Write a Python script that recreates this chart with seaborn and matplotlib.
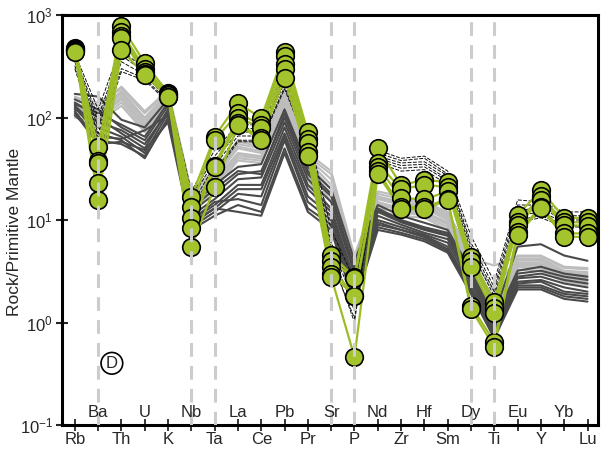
import numpy as np
import pandas as pd
import matplotlib
matplotlib.use("Agg")
import matplotlib.pyplot as plt
import matplotlib.transforms as mtransforms
import seaborn as sns

elements = ["Rb", "Ba", "Th", "U", "K", "Nb", "Ta", "La", "Ce", "Pb", "Pr", "Sr",
            "P", "Nd", "Zr", "Hf", "Sm", "Dy", "Ti", "Eu", "Y", "Yb", "Lu"]
dashed_elements = ["Ba", "Nb", "Ta", "Sr", "P", "Dy", "Ti"]

# light grey reference samples
light_1 = [160, 130, 200, 115, 185, 19, 31, 60, 55, 190, 45, 30, 4.5, 19, 17, 15, 12, 4.5, 2.0, 4.5, 4.5, 3.5, 3.4]
light_2 = [150, 120, 180, 100, 175, 17, 28, 55, 50, 180, 40, 25, 4.0, 17, 15, 14, 11, 4.0, 1.7, 4.2, 4.2, 3.2, 3.1]
light_3 = [140, 110, 170, 90, 165, 16, 26, 50, 45, 170, 36, 20, 3.5, 16, 14, 13, 10, 3.7, 1.5, 4.0, 4.0, 3.0, 2.9]
light_4 = [130, 105, 160, 85, 160, 15, 25, 45, 42, 160, 33, 15, 3.0, 15, 13, 12, 9.5, 3.4, 1.3, 3.8, 3.8, 2.9, 2.7]
light_5 = [120, 100, 150, 80, 155, 14, 23, 42, 40, 150, 30, 12, 2.6, 14, 12.5, 11.5, 9, 3.2, 1.2, 3.6, 3.6, 2.7, 2.5]
light_6 = [110, 95, 140, 75, 150, 13, 22, 40, 38, 140, 28, 10, 2.3, 13, 12, 11, 8.5, 3.0, 1.0, 3.5, 3.4, 2.6, 2.4]
light_7 = [100, 90, 130, 72, 145, 12, 20, 38, 36, 130, 26, 8, 2.0, 12, 11, 10.5, 8, 2.8, 0.9, 3.3, 3.2, 2.5, 2.3]
light_8 = [155, 140, 190, 110, 180, 18, 30, 58, 52, 185, 42, 28, 4.2, 18, 16, 14.5, 11.5, 4.2, 3.6, 4.4, 4.4, 3.4, 3.3]
light_9 = [135, 115, 175, 95, 170, 16, 27, 52, 47, 175, 38, 22, 3.8, 16.5, 14.5, 13.5, 10.5, 3.8, 1.6, 4.1, 4.1, 3.1, 3.0]
light_10 = [125, 100, 155, 82, 158, 14.5, 24, 44, 41, 155, 32, 18, 2.8, 14.5, 13, 12, 9.2, 3.3, 0.8, 3.7, 3.7, 2.8, 2.6]

# dark grey reference samples
dark_1 = [170, 160, 95, 80, 150, 14, 22, 33, 35, 120, 33, 20, 4.0, 14, 11, 9.4, 8, 3.2, 1.2, 5.5, 5.8, 4.5, 4.0]
dark_2 = [150, 120, 80, 60, 130, 12, 18, 28, 30, 100, 28, 17, 3.5, 13, 10, 8.5, 7.5, 3.0, 1.1, 3.0, 3.2, 2.8, 2.6]
dark_3 = [140, 100, 70, 50, 120, 11, 16, 25, 26, 90, 25, 15, 3.0, 12, 9.5, 8, 7, 2.8, 1.0, 2.8, 3.0, 2.6, 2.4]
dark_4 = [130, 80, 65, 45, 110, 10, 14, 22, 22, 80, 22, 13, 2.6, 11, 9, 7.5, 6.5, 2.6, 0.95, 2.7, 2.8, 2.4, 2.2]
dark_5 = [125, 70, 60, 40, 100, 9, 13, 20, 20, 70, 20, 12, 2.3, 10, 8.5, 7.2, 6, 2.4, 0.9, 2.5, 2.6, 2.2, 2.0]
dark_6 = [115, 60, 55, 42, 95, 8.5, 12, 18, 17, 65, 17, 11, 2.0, 9.5, 8, 7, 5.5, 2.2, 0.85, 2.4, 2.5, 2.0, 1.9]
dark_7 = [120, 90, 75, 55, 115, 10, 15, 16, 14, 60, 15, 10, 1.8, 9, 8, 6.8, 5.2, 2.1, 0.8, 2.3, 2.3, 1.9, 1.8]
dark_8 = [110, 55, 58, 48, 90, 8, 11, 14, 12, 50, 13, 9, 1.6, 8.5, 7.5, 6.5, 5, 2.0, 0.75, 2.2, 2.2, 1.8, 1.7]
dark_9 = [135, 110, 85, 65, 140, 13, 20, 30, 28, 110, 30, 18, 3.2, 12.5, 9.8, 8.2, 7.2, 2.9, 1.05, 3.2, 3.5, 3.0, 2.8]
dark_10 = [105, 65, 62, 75, 105, 9.5, 13, 12, 11, 45, 12, 8, 1.5, 8, 7.2, 6.2, 4.8, 1.9, 0.7, 2.1, 2.1, 1.7, 1.6]

# thin black dashed reference samples
dash_1 = [420, 120, 500, 330, 180, 19, 48, 85, 85, 290, 75, 8, 2.6, 48, 40, 42, 30, 7, 2.5, 15.7, 15, 12, 12]
dash_2 = [400, 100, 450, 300, 170, 17, 42, 78, 78, 260, 68, 6, 2.0, 45, 38, 40, 28, 6, 2.2, 14, 14, 11, 11]
dash_3 = [380, 90, 400, 280, 160, 16, 38, 72, 72, 240, 62, 5.5, 1.6, 42, 36, 37, 27, 5.5, 2.0, 12.5, 13, 10, 10]
dash_4 = [350, 80, 350, 260, 150, 14, 34, 66, 66, 220, 58, 5, 1.3, 40, 34, 35, 25, 5, 1.8, 11, 12, 9.5, 9.5]
dash_5 = [320, 70, 300, 240, 145, 13, 30, 60, 60, 200, 55, 4.5, 1.0, 38, 32, 33, 24, 4.5, 1.6, 10, 11, 9, 8.5]
dash_6 = [300, 60, 280, 230, 140, 12, 28, 58, 58, 190, 52, 4, 1.1, 36, 30, 31, 22, 4, 1.4, 9.5, 10.5, 8.6, 8.5]

# green (this study) samples
green_1 = [480, 51, 780, 340, 175, 16.7, 65, 138, 99, 435, 72, 4.6, 2.75, 50, 22, 24.5, 23.5, 4.4, 1.58, 11.2, 19.5, 10.5, 10.5]
green_2 = [470, 38, 680, 300, 170, 13.4, 60, 110, 85, 400, 62, 4.0, 2.7, 36, 20, 22, 21, 4.0, 1.4, 9.5, 17, 9.5, 9.5]
green_3 = [455, 36, 620, 280, 165, 10.5, 34, 100, 79, 330, 56, 3.5, 1.8, 33, 16.4, 15.9, 19, 3.5, 1.24, 8.9, 15.7, 8.9, 8.8]
green_4 = [445, 23, 600, 265, 160, 8.4, 33, 88, 63, 300, 46, 3.0, 1.8, 30, 13.4, 13.4, 16, 1.45, 0.65, 7.6, 13.4, 7.4, 7.4]
green_5 = [440, 15.7, 455, 260, 158, 5.5, 21, 85, 60, 243, 42, 2.8, 0.46, 28, 12.8, 12.8, 15.5, 1.35, 0.58, 7.2, 13.0, 6.9, 6.8]

light = [light_1, light_2, light_3, light_4, light_5, light_6, light_7, light_8, light_9, light_10]
dark = [dark_1, dark_2, dark_3, dark_4, dark_5, dark_6, dark_7, dark_8, dark_9, dark_10]
dashed = [dash_1, dash_2, dash_3, dash_4, dash_5, dash_6]
green = [green_1, green_2, green_3, green_4, green_5]


def to_df(rows):
    recs = []
    for i, r in enumerate(rows):
        for j, v in enumerate(r):
            recs.append({"sample": i, "pos": j, "val": v})
    return pd.DataFrame(recs)


sns.set_style("white")
plt.rcParams["font.family"] = ["Liberation Sans", "DejaVu Sans"]
plt.rcParams["mathtext.fontset"] = "custom"
plt.rcParams["mathtext.rm"] = "Liberation Sans"
plt.rcParams["mathtext.it"] = "Liberation Sans:italic"
plt.rcParams["mathtext.bf"] = "Liberation Sans:bold"

fig = plt.figure(figsize=(6.08, 4.53), dpi=100)
ax = fig.add_axes([62 / 608, 1 - 425 / 453, (598 - 62) / 608, (425 - 15) / 453])

sns.lineplot(data=to_df(light), x="pos", y="val", units="sample", estimator=None,
             color="#bdbdbd", lw=1.5, ax=ax, zorder=2, legend=False)
sns.lineplot(data=to_df(dark), x="pos", y="val", units="sample", estimator=None,
             color="#4a4a4a", lw=1.5, ax=ax, zorder=3, legend=False)
sns.lineplot(data=to_df(dashed), x="pos", y="val", units="sample", estimator=None,
             color="#111111", lw=0.7, ax=ax, zorder=4, legend=False,
             linestyle=(0, (4, 1.5)))
gdf = to_df(green)
sns.lineplot(data=gdf, x="pos", y="val", units="sample", estimator=None,
             color="#9cbc26", lw=1.6, ax=ax, zorder=5, legend=False)
sns.scatterplot(data=gdf, x="pos", y="val", color="#a3c42c", edgecolor="black",
                linewidth=1.2, s=160, ax=ax, zorder=6, legend=False)

ax.set_yscale("log")
ax.set_ylim(0.1, 1000)
ax.set_xlim(-0.55, 22.45)

for el in dashed_elements:
    ax.axvline(elements.index(el), color="#cccccc", lw=2.2, linestyle=(0, (4.5, 3)), zorder=7)

ax.set_yticks([0.1, 1, 10, 100, 1000])
ax.set_yticklabels([r"$10^{-1}$", r"$10^{0}$", r"$10^{1}$", r"$10^{2}$", r"$10^{3}$"])
ax.yaxis.set_minor_locator(matplotlib.ticker.NullLocator())
ax.tick_params(axis="y", direction="inout", length=9, width=1.5, labelsize=12, pad=2, left=True)

ax.set_xticks(range(len(elements)))
ax.set_xticklabels([e if i % 2 == 0 else "" for i, e in enumerate(elements)])
ax.tick_params(axis="x", direction="inout", length=8, width=1.3, labelsize=12, pad=1, bottom=True)
trans = mtransforms.blended_transform_factory(ax.transData, ax.transAxes)
for i, e in enumerate(elements):
    if i % 2 == 1:
        ax.text(i, 0.03, e, transform=trans, ha="center", va="center", fontsize=12, zorder=8)

ax.set_xlabel("")
ax.set_ylabel("Rock/Primitive Mantle", fontsize=12.5)
ax.yaxis.set_label_coords(-40 / 536, 0.47)

for s in ax.spines.values():
    s.set_visible(True)
    s.set_color("black")
    s.set_linewidth(2.2)

ax.text(1.59, 0.4, "D", ha="center", va="center", fontsize=12, zorder=9,
        bbox=dict(boxstyle="circle,pad=0.2", fc="white", ec="black", lw=1.2))

fig.savefig("out.png", dpi=100)
